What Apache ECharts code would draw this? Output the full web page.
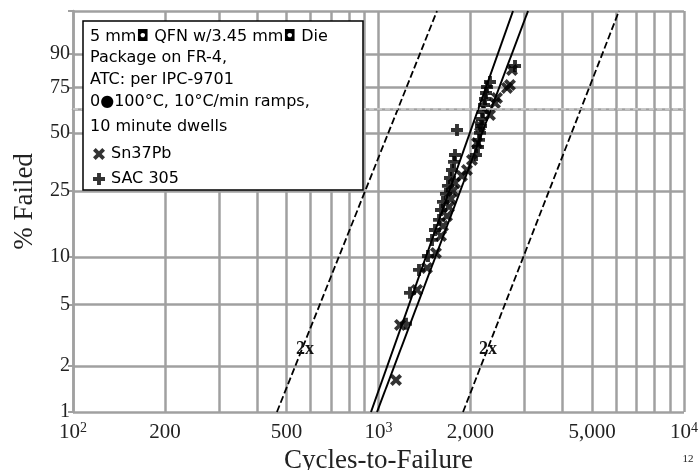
<!DOCTYPE html>
<html>
<head>
<meta charset="utf-8">
<script src="https://cdn.jsdelivr.net/npm/echarts@6/dist/echarts.min.js"></script>
<style>
html, body { margin: 0; padding: 0; background: #fff; }
#chart { width: 699px; height: 470px; }
</style>
</head>
<body>
<div id="chart"></div>
<script>
// failures: cycles and % failed
var snCycles = [1141, 1176, 1337, 1441, 1542, 1602, 1626, 1676, 1701, 1727, 1754, 1780, 1876, 1948, 2023, 2101, 2149, 2317, 2406, 2443, 2634, 2694, 2735];
var snFailed = [1.62, 3.70, 6.21, 8.57, 10.63, 13.55, 15.58, 17.89, 20.23, 22.52, 25.03, 27.77, 30.35, 32.71, 36.94, 44.95, 53.82, 59.87, 66.56, 69.33, 74.74, 76.28, 83.59];
var sacCycles = [1230, 1268, 1357, 1452, 1497, 1531, 1578, 1602, 1626, 1663, 1688, 1714, 1740, 1767, 1780, 1807, 2085, 2117, 2133, 2149, 2165, 2182, 2198, 2215, 2232, 2249, 2266, 2317, 2798];
var sacFailed = [3.76, 5.95, 8.32, 10.18, 12.80, 14.73, 16.94, 19.42, 21.65, 24.07, 26.73, 29.60, 32.71, 36.08, 39.20, 51.66, 39.20, 42.98, 46.47, 50.09, 53.82, 57.64, 61.52, 65.45, 68.78, 72.06, 75.25, 77.84, 85.33];

// fit lines and the 2x bounds, end points (cycles) at bottom and top of the plot
var lineFailed = [1, 98.8];
var fitLeftCycles = [945, 2756];
var fitRightCycles = [989, 3086];
var halfCycles = [465, 1554];
var doubleCycles = [1891, 6127];
var charLife = 63.2;

var yTicks = [1, 2, 5, 10, 25, 50, 75, 90];
var yTop = 98.8;
var xGrid = [100, 200, 300, 400, 500, 600, 700, 800, 900, 1000, 2000, 3000, 4000, 5000, 6000, 7000, 8000, 9000, 10000];
var xLabels = [100, 200, 500, 1000, 2000, 5000, 10000];

function wb(p) { return Math.log(-Math.log(1 - p / 100)); }
function lg(c) { return Math.log10(c); }
function pairs(cs, ps) {
    return cs.map(function (c, i) { return [lg(c), wb(ps[i])]; });
}

var plusPath = 'path://M2.7,0H5.3V2.7H8V5.3H5.3V8H2.7V5.3H0V2.7H2.7Z';
var crossPath = 'path://M0,1.8L1.8,0L4,2.2L6.2,0L8,1.8L5.8,4L8,6.2L6.2,8L4,5.8L1.8,8L0,6.2L2.2,4Z';
var gridColor = '#a0a0a0';
var serif = '"Liberation Serif", "DejaVu Serif", serif';
var sans = '"DejaVu Sans", sans-serif';

var chart = echarts.init(document.getElementById('chart'));

function fitLine(cs, dashed) {
    return {
        type: 'line',
        data: pairs(cs, lineFailed),
        symbol: 'none',
        silent: true,
        z: 3,
        lineStyle: { color: '#000', width: dashed ? 1.8 : 2, type: dashed ? [7, 3] : 'solid' }
    };
}

var option = {
    animation: false,
    grid: { left: 73, right: 15, top: 11, bottom: 58, outerBoundsMode: 'none', containLabel: false },
    xAxis: {
        type: 'value',
        min: 2,
        max: 4,
        name: 'Cycles-to-Failure',
        nameLocation: 'middle',
        nameGap: 30,
        nameTextStyle: { fontFamily: serif, fontSize: 27, color: '#222' },
        axisLine: { lineStyle: { color: gridColor, width: 2.5 } },
        axisTick: { show: false, customValues: xGrid.map(lg) },
        splitLine: { show: true, lineStyle: { color: gridColor, width: 2.5 } },
        axisLabel: {
            customValues: xLabels.map(lg),
            margin: 9,
            formatter: function (v) {
                var c = Math.round(Math.pow(10, v));
                if (c === 100) return '{b|10}{s|2}';
                if (c === 1000) return '{b|10}{s|3}';
                if (c === 10000) return '{b|10}{s|4}';
                return '{b|' + c.toLocaleString('en-US') + '}';
            },
            rich: {
                b: { fontFamily: serif, fontSize: 21, color: '#222', lineHeight: 22 },
                s: { fontFamily: serif, fontSize: 14, color: '#222', verticalAlign: 'top', lineHeight: 14 }
            }
        }
    },
    yAxis: {
        type: 'value',
        min: wb(yTicks[0]),
        max: wb(yTop),
        name: '% Failed',
        nameLocation: 'middle',
        nameGap: 35,
        nameTextStyle: { fontFamily: serif, fontSize: 27, color: '#222', padding: [0, 0, 0, 20] },
        axisLine: { show: true, lineStyle: { color: gridColor, width: 2.5 } },
        axisTick: { show: true, length: 5, customValues: yTicks.concat([yTop]).map(wb), lineStyle: { color: gridColor, width: 2 } },
        splitLine: { show: true, lineStyle: { color: gridColor, width: 2.5 } },
        axisLabel: {
            customValues: yTicks.map(wb),
            margin: 3,
            fontFamily: serif,
            fontSize: 20,
            color: '#222',
            formatter: function (v) {
                return String(Math.round(100 * (1 - Math.exp(-Math.exp(v)))));
            }
        }
    },
    legend: {
        left: 88,
        top: 141,
        orient: 'vertical',
        itemGap: 9,
        itemWidth: 14,
        itemHeight: 12,
        selectedMode: false,
        z: 20,
        textStyle: { fontFamily: sans, fontSize: 16, color: '#000', lineHeight: 12 },
        data: ['Sn37Pb', 'SAC 305']
    },
    graphic: [
        {
            type: 'rect', z: 10,
            shape: { x: 83, y: 21, width: 280, height: 169 },
            style: { fill: '#fff', stroke: '#000', lineWidth: 1.5 }
        },
        { type: 'text', z: 11, x: 90, y: 37, style: { text: '5 mm\u25D8 QFN w/3.45 mm\u25D8 Die', font: '16px ' + sans, fill: '#000', verticalAlign: 'middle' } },
        { type: 'text', z: 11, x: 90, y: 58, style: { text: 'Package on FR-4,', font: '16px ' + sans, fill: '#000', verticalAlign: 'middle' } },
        { type: 'text', z: 11, x: 90, y: 80, style: { text: 'ATC: per IPC-9701', font: '16px ' + sans, fill: '#000', verticalAlign: 'middle' } },
        { type: 'text', z: 11, x: 90, y: 102, style: { text: '0\u25CF100\u00B0C, 10\u00B0C/min ramps,', font: '16px ' + sans, fill: '#000', verticalAlign: 'middle' } },
        { type: 'text', z: 11, x: 90, y: 127, style: { text: '10 minute dwells', font: '16px ' + sans, fill: '#000', verticalAlign: 'middle' } },
        { type: 'text', z: 11, x: 305, y: 349, style: { text: '2x', font: 'bold 18px ' + serif, fill: '#111', align: 'center', verticalAlign: 'middle' } },
        { type: 'text', z: 11, x: 488, y: 349, style: { text: '2x', font: 'bold 18px ' + serif, fill: '#111', align: 'center', verticalAlign: 'middle' } },
        { type: 'text', z: 11, x: 688, y: 459, style: { text: '12', font: '11px ' + serif, fill: '#222', align: 'center', verticalAlign: 'middle' } }
    ],
    series: [
        {
            name: 'Sn37Pb',
            type: 'scatter',
            data: pairs(snCycles, snFailed),
            symbol: crossPath,
            symbolSize: 12,
            z: 4,
            itemStyle: { color: '#000' }
        },
        {
            name: 'SAC 305',
            type: 'scatter',
            data: pairs(sacCycles, sacFailed),
            symbol: plusPath,
            symbolSize: 12,
            z: 4,
            itemStyle: { color: '#000' }
        },
        Object.assign(fitLine(fitLeftCycles, false), {
            markLine: {
                silent: true,
                symbol: 'none',
                label: { show: false },
                lineStyle: { color: '#cfcfcf', type: [5, 3], width: 1.5 },
                data: [{ yAxis: wb(charLife) }]
            }
        }),
        fitLine(fitRightCycles, false),
        fitLine(halfCycles, true),
        fitLine(doubleCycles, true)
    ]
};

chart.setOption(option);
</script>
</body>
</html>
